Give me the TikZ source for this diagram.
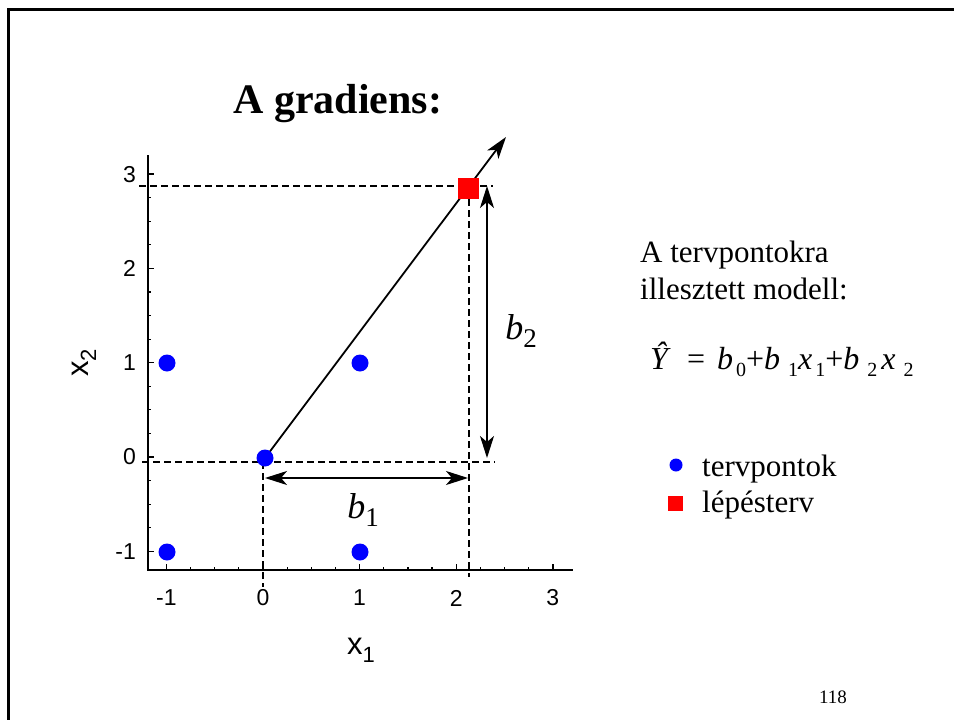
\documentclass[tikz,border=0pt]{standalone}
\usepackage{fontspec}
\setmainfont{Liberation Serif}
\newfontfamily\arial{Liberation Sans}
\usetikzlibrary{arrows.meta}
\newcommand\lowsub[2][7pt]{\raisebox{-#1}{\upshape\fontsize{20}{22}\selectfont #2}}
\begin{document}
\begin{tikzpicture}[x=1pt,y=-1pt,
  axisln/.style={line width=1.8pt},
  dashln/.style={dash pattern=on 7pt off 4pt, line width=1.6pt},
  bdot/.style={circle, fill=blue, inner sep=0pt, minimum size=17pt},
  rsq/.style={rectangle, fill=red, inner sep=0pt, minimum size=21pt},
  arr/.style={line width=1.8pt, -{Stealth[length=22pt,width=14pt,inset=6pt]}},
  dblarr/.style={line width=1.8pt, {Stealth[length=22pt,width=14pt,inset=6pt]}-{Stealth[length=22pt,width=14pt,inset=6pt]}},
  ticklab/.style={font=\arial\fontsize{23}{27}\selectfont, inner sep=0pt},
  txt/.style={font=\fontsize{31}{37}\selectfont, inner sep=0pt, anchor=base west},
]
\useasboundingbox (0,0) rectangle (954,720);
\fill[white] (0,0) rectangle (954,720);
% frame
\draw[line width=3pt] (8,730) -- (8,9) -- (960,9);
% title
\node[anchor=base west, inner sep=0pt, font=\bfseries\fontsize{42}{50}\selectfont] (title) at (233,113) {A gradiens:};
% axes
\coordinate (ytop) at (148,155);
\coordinate (orig) at (148,570);
\coordinate (xend) at (573,570);
\draw[axisln] (ytop) -- (orig) -- (xend);
\foreach \i in {-4,...,12} {
  \pgfmathsetmacro\xx{263+96.6*\i/4}
  \pgfmathsetmacro\yy{457-94.3*\i/4}
  \draw[line width=1.2pt] (\xx,570) -- ++(0,-3);
  \draw[line width=1.2pt] (148,\yy) -- ++(3,0);
}
\foreach \v in {-1,...,3} {
  \pgfmathsetmacro\xx{263+96.6*\v}
  \pgfmathsetmacro\yy{457-94.3*\v}
  \draw[line width=1.4pt] (\xx,570) -- ++(0,-6);
  \draw[line width=1.4pt] (148,\yy) -- ++(6,0);
  \node[ticklab] (xl\v) at (\xx,598) {\v};
  \node[ticklab, anchor=east] (yl\v) at (136,\yy) {\v};
}
\node[inner sep=0pt, font=\arial\fontsize{31}{34}\selectfont] (xtitle) at (361,650) {x\raisebox{-8pt}{\fontsize{22}{24}\selectfont 1}};
\node[inner sep=0pt, rotate=90, font=\arial\fontsize{31}{34}\selectfont] (ytitle) at (84,363) {x\raisebox{-8pt}{\fontsize{22}{24}\selectfont 2}};
% dashed guides
\coordinate (dh1a) at (139,186);
\coordinate (dh1b) at (493,186);
\coordinate (dv1a) at (469,199);
\coordinate (dv1b) at (469,577);
\coordinate (dh0a) at (142,462);
\coordinate (dh0b) at (495,462);
\coordinate (dv0a) at (263,462);
\coordinate (dv0b) at (263,587);
\draw[dashln] (dh1a) -- (dh1b);
\draw[dashln] (dv1a) -- (dv1b);
\draw[dashln] (dh0a) -- (dh0b);
\draw[dashln] (dv0a) -- (dv0b);
% gradient line
\coordinate (c00) at (265,458);
\coordinate (tip) at (506,137);
\draw[arr] (c00) -- (tip);
% b1, b2 arrows
\coordinate (b1l) at (265,478);
\coordinate (b1r) at (468,478);
\coordinate (b2t) at (487,186);
\coordinate (b2b) at (487,458);
\draw[dblarr] (b1l) -- (b1r);
\draw[dblarr] (b2t) -- (b2b);
\node[inner sep=0pt, font=\itshape\fontsize{36}{40}\selectfont] (b1lab) at (363,510) {b\raisebox{-8pt}{\upshape\fontsize{27}{30}\selectfont 1}};
\node[inner sep=0pt, font=\itshape\fontsize{36}{40}\selectfont] (b2lab) at (521,331) {b\raisebox{-8pt}{\upshape\fontsize{27}{30}\selectfont 2}};
% points
\node[bdot] (pmm) at (167,552) {};
\node[bdot] (ppm) at (360,552) {};
\node[bdot] (pmp) at (167,363) {};
\node[bdot] (ppp) at (360,363) {};
\node[bdot] (p00) at (c00) {};
\node[rsq] (sq) at (468.5,188) {};
% right text
\node[txt] (t1) at (640,262) {A tervpontokra};
\node[txt] (t2) at (640,299) {illesztett modell:};
\node[anchor=base west, inner sep=0pt, font=\itshape\fontsize{32}{38}\selectfont] (model) at (650,369)
  {\^Y\hspace{19pt}{\upshape =}\hspace{12pt}b\hspace{3pt}\lowsub{0}{\upshape +}b\hspace{8pt}\lowsub{1}x\hspace{3pt}\lowsub{1}{\upshape +}b\hspace{8pt}\lowsub{2}\hspace{4pt}x\hspace{8pt}\lowsub{2}};
% legend
\node[circle, fill=blue, inner sep=0pt, minimum size=13pt] (lgdot) at (676,465) {};
\node[txt] (lg1) at (702,476) {tervpontok};
\node[rectangle, fill=red, inner sep=0pt, minimum size=15pt] (lgsq) at (675.5,503.5) {};
\node[txt] (lg2) at (702,512) {lépésterv};
% page number
\node[inner sep=0pt, font=\fontsize{19}{22}\selectfont] (pg) at (833,697) {118};
\end{tikzpicture}
\end{document}
